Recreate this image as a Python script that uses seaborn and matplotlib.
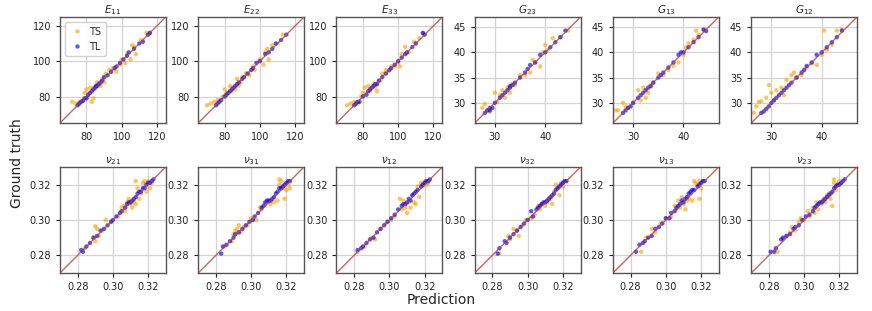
import pandas as pd
import matplotlib.pyplot as plt
import seaborn as sns

# (prediction, ground truth) pairs
e11_ts = [(72, 77), (74, 76), (76, 77), (78, 78), (79, 82), (80, 84), (81, 80), (82, 85), (83, 77), (84, 85),
          (86, 88), (88, 86), (89, 90), (90, 88), (91, 93), (93, 95), (95, 96), (97, 94), (99, 98), (100, 101),
          (102, 99), (103, 104), (105, 101), (106, 109), (107, 108), (108, 104), (111, 112), (114, 116), (116, 116), (84, 79)]
e11_tl = [(75, 75), (76, 76), (77, 77), (78, 77.5), (79, 79), (80, 79), (81, 81), (82, 82), (83, 83), (84, 84),
          (85, 85), (85.5, 86), (86, 86), (87, 87), (88, 88), (89, 89), (90, 91), (92, 92), (94, 94), (96, 96),
          (97, 97), (99, 99), (101, 101), (103, 103), (104, 105), (107, 107), (110, 110), (112, 111), (115, 115), (116, 116)]

e22_ts = [(70, 75), (72, 76), (74, 77), (76, 78), (79, 80), (80, 84), (81, 82), (83, 86), (84, 83), (86, 84),
          (87, 90), (88, 86), (89, 88), (90, 91), (92, 93), (94, 92), (96, 97), (97, 95), (100, 101), (102, 98),
          (103, 105), (104, 107), (105, 101), (107, 109), (110, 110), (113, 115)]
e22_tl = [(75, 75), (76, 76), (77, 77), (78, 78), (80, 80), (81, 81), (82, 82), (83, 83), (84, 84), (85, 85),
          (86, 86), (87, 87), (88, 88), (90, 90), (91, 91), (93, 93), (95, 95), (96, 96), (98, 99), (100, 100),
          (103, 104), (105, 105), (107, 107), (109, 110), (112, 112), (115, 115)]

e33_ts = [(71, 75), (73, 76), (75, 77), (77, 76), (79, 80), (80, 82), (81, 85), (83, 86), (84, 83), (86, 87),
          (87, 85), (88, 83), (90, 89), (91, 93), (93, 95), (94, 94), (96, 97), (98, 97), (100, 99), (101, 97),
          (102, 104), (104, 108), (106, 105), (109, 111), (112, 113), (114, 116)]
e33_tl = [(75, 75), (76, 76), (77, 77), (78, 77), (80, 80), (82, 81), (83, 83), (84, 84), (85, 85), (86, 86),
          (87, 87), (88, 87), (89, 89), (91, 91), (93, 93), (95, 95), (96, 96), (98, 98), (100, 100), (102, 102),
          (104, 104), (105, 105), (108, 108), (110, 110), (114, 116), (115, 115)]

g23_ts = [(27.5, 29), (28, 29.8), (28.5, 28.5), (29, 28.2), (30, 32), (30.5, 30.2), (31, 31.5), (31.5, 32.5),
          (32, 31), (32.5, 33), (33, 32), (33.5, 33.8), (34, 33.5), (35, 35.5), (36, 35.5), (37, 36), (38, 38),
          (39, 37.2), (39.5, 40), (40, 41.5), (40.5, 40.5), (41.5, 42.8), (43, 43), (44.5, 44.3), (37.5, 38.5)]
g23_tl = [(28, 28), (28.5, 28.5), (29, 29), (29, 28.5), (29.5, 29), (30, 30), (31, 31), (31.5, 31.5), (32, 32),
          (32.5, 32.5), (33, 33), (33, 33.3), (33.5, 33.5), (34, 34), (35, 35), (36, 36), (36.5, 36.7), (37, 37.5),
          (38, 38), (39, 39.5), (40, 40), (41, 41), (42, 42), (43, 43), (44, 44.3)]

g13_ts = [(26.5, 28.5), (27, 28.5), (28, 30), (28.5, 29.3), (29, 29), (30, 30), (31, 32.5), (31.5, 30.5),
          (32, 33), (32.5, 31), (33, 32), (33.5, 33.5), (34, 34), (35, 35.8), (36, 35.5), (37, 36.5), (38, 37.3),
          (39, 38), (40, 39.5), (40.5, 41), (41, 41.8), (42, 42.5), (42.5, 44.3), (43, 43.5), (44, 44.5)]
g13_tl = [(28, 28), (28.5, 28.5), (29, 29), (29.5, 29.3), (30, 30), (31, 31), (31.5, 31.5), (32, 32), (32.5, 32.5),
          (33, 33), (33.5, 33.3), (34, 34), (35, 35), (35.5, 35.5), (36, 36), (37, 37), (38, 38), (39, 39.5),
          (39.5, 40), (40, 40), (41, 41), (42, 42), (43, 43), (44, 44.5), (44.5, 44.2)]

g12_ts = [(26.5, 28), (27, 29.3), (27.5, 30.2), (28, 30.3), (29, 31), (29.5, 33.5), (30, 32), (30.5, 30.5),
          (31, 32.5), (32, 33), (32.5, 31.5), (33, 34.5), (34, 35.5), (34.5, 36), (35, 35), (36, 35.5), (37, 37),
          (38, 37.8), (39, 37.5), (40, 39.5), (40.5, 44.3), (41, 40.5), (42, 41.5), (43, 44.3), (44, 44.5)]
g12_tl = [(28, 28), (28.5, 28.3), (29, 28.8), (29.5, 29.3), (30, 30), (30.5, 30.5), (31, 31), (31.5, 31.5),
          (32, 32), (32.5, 32.5), (33, 33), (33.5, 33.5), (34, 34), (35, 35), (36, 36), (36.5, 36.5), (37, 37.3),
          (38, 38), (39, 39.5), (40, 40), (41, 41), (42, 42), (43, 43), (44, 44.3)]

nu21_ts = [(0.284, 0.284), (0.289, 0.290), (0.290, 0.2965), (0.290, 0.288), (0.291, 0.295), (0.292, 0.291),
           (0.294, 0.294), (0.296, 0.300), (0.299, 0.299), (0.303, 0.302), (0.305, 0.307), (0.306, 0.308),
           (0.307, 0.305), (0.308, 0.310), (0.309, 0.312), (0.310, 0.309), (0.311, 0.307), (0.312, 0.310),
           (0.313, 0.309), (0.313, 0.322), (0.314, 0.318), (0.315, 0.312), (0.316, 0.315), (0.317, 0.321),
           (0.318, 0.322), (0.319, 0.316), (0.320, 0.322), (0.321, 0.318), (0.322, 0.321)]
nu21_tl = [(0.282, 0.283), (0.283, 0.282), (0.285, 0.285), (0.287, 0.287), (0.289, 0.290), (0.291, 0.291),
           (0.293, 0.294), (0.295, 0.295), (0.297, 0.297), (0.299, 0.299), (0.300, 0.300), (0.302, 0.302),
           (0.304, 0.304), (0.305, 0.305), (0.307, 0.307), (0.308, 0.309), (0.309, 0.310), (0.310, 0.310),
           (0.311, 0.311), (0.312, 0.312), (0.313, 0.313), (0.314, 0.315), (0.315, 0.316), (0.316, 0.316),
           (0.317, 0.318), (0.318, 0.318), (0.319, 0.320), (0.320, 0.321), (0.321, 0.321), (0.322, 0.322), (0.323, 0.323)]

nu31_ts = [(0.285, 0.285), (0.289, 0.288), (0.290, 0.292), (0.291, 0.294), (0.292, 0.295), (0.293, 0.297),
           (0.294, 0.293), (0.296, 0.296), (0.298, 0.297), (0.300, 0.301), (0.303, 0.300), (0.305, 0.307),
           (0.306, 0.306), (0.308, 0.309), (0.310, 0.310), (0.311, 0.309), (0.313, 0.310), (0.315, 0.311),
           (0.316, 0.323), (0.316, 0.320), (0.317, 0.322), (0.318, 0.318), (0.319, 0.312), (0.320, 0.317),
           (0.321, 0.320), (0.322, 0.318)]
nu31_tl = [(0.283, 0.281), (0.284, 0.285), (0.286, 0.286), (0.288, 0.288), (0.290, 0.290), (0.291, 0.292),
           (0.293, 0.293), (0.295, 0.295), (0.297, 0.297), (0.299, 0.299), (0.301, 0.300), (0.302, 0.302),
           (0.304, 0.304), (0.306, 0.307), (0.307, 0.308), (0.308, 0.310), (0.309, 0.311), (0.310, 0.311),
           (0.311, 0.311), (0.312, 0.312), (0.313, 0.313), (0.314, 0.315), (0.315, 0.316), (0.316, 0.318),
           (0.317, 0.318), (0.318, 0.319), (0.319, 0.320), (0.320, 0.321), (0.321, 0.322), (0.322, 0.322)]

nu12_ts = [(0.282, 0.282), (0.286, 0.285), (0.290, 0.290), (0.292, 0.289), (0.295, 0.295), (0.298, 0.298),
           (0.301, 0.300), (0.303, 0.302), (0.306, 0.312), (0.307, 0.306), (0.308, 0.311), (0.309, 0.307),
           (0.310, 0.304), (0.311, 0.310), (0.312, 0.307), (0.313, 0.314), (0.314, 0.310), (0.315, 0.309),
           (0.316, 0.319), (0.317, 0.313), (0.318, 0.321), (0.319, 0.319), (0.320, 0.322), (0.321, 0.320),
           (0.322, 0.321)]
nu12_tl = [(0.282, 0.283), (0.284, 0.284), (0.285, 0.285), (0.287, 0.287), (0.289, 0.289), (0.291, 0.290),
           (0.293, 0.293), (0.295, 0.295), (0.297, 0.297), (0.299, 0.299), (0.301, 0.301), (0.303, 0.303),
           (0.305, 0.306), (0.307, 0.308), (0.308, 0.309), (0.309, 0.309), (0.310, 0.310), (0.311, 0.312),
           (0.312, 0.311), (0.313, 0.314), (0.314, 0.315), (0.315, 0.316), (0.316, 0.317), (0.318, 0.319),
           (0.319, 0.320), (0.320, 0.321), (0.321, 0.322), (0.322, 0.322), (0.323, 0.323)]

nu32_ts = [(0.284, 0.281), (0.289, 0.291), (0.290, 0.289), (0.292, 0.295), (0.294, 0.294), (0.295, 0.291),
           (0.297, 0.297), (0.299, 0.300), (0.302, 0.301), (0.304, 0.303), (0.306, 0.308), (0.307, 0.306),
           (0.308, 0.309), (0.310, 0.308), (0.311, 0.310), (0.312, 0.311), (0.313, 0.312), (0.314, 0.309),
           (0.315, 0.316), (0.316, 0.320), (0.317, 0.318), (0.318, 0.314), (0.319, 0.321), (0.320, 0.319),
           (0.322, 0.322)]
nu32_tl = [(0.283, 0.281), (0.284, 0.284), (0.287, 0.288), (0.288, 0.287), (0.290, 0.290), (0.292, 0.292),
           (0.294, 0.294), (0.296, 0.296), (0.298, 0.298), (0.300, 0.300), (0.302, 0.305), (0.303, 0.302),
           (0.305, 0.306), (0.306, 0.307), (0.307, 0.308), (0.308, 0.309), (0.309, 0.310), (0.310, 0.310),
           (0.311, 0.311), (0.312, 0.312), (0.313, 0.313), (0.314, 0.314), (0.315, 0.315), (0.316, 0.317),
           (0.317, 0.318), (0.318, 0.319), (0.319, 0.320), (0.320, 0.321), (0.321, 0.322), (0.322, 0.322)]

nu13_ts = [(0.286, 0.282), (0.289, 0.290), (0.292, 0.295), (0.294, 0.293), (0.297, 0.298), (0.300, 0.301),
           (0.303, 0.302), (0.305, 0.308), (0.306, 0.306), (0.307, 0.311), (0.308, 0.307), (0.309, 0.313),
           (0.310, 0.309), (0.311, 0.306), (0.312, 0.311), (0.313, 0.312), (0.314, 0.315), (0.315, 0.311),
           (0.316, 0.322), (0.317, 0.321), (0.318, 0.320), (0.319, 0.322), (0.319, 0.312), (0.320, 0.318),
           (0.321, 0.322)]
nu13_tl = [(0.283, 0.282), (0.285, 0.286), (0.287, 0.287), (0.288, 0.288), (0.290, 0.290), (0.292, 0.291),
           (0.294, 0.295), (0.296, 0.296), (0.298, 0.298), (0.300, 0.301), (0.302, 0.301), (0.303, 0.304),
           (0.305, 0.305), (0.306, 0.307), (0.307, 0.308), (0.308, 0.309), (0.309, 0.311), (0.310, 0.310),
           (0.311, 0.312), (0.312, 0.313), (0.313, 0.315), (0.314, 0.316), (0.315, 0.317), (0.316, 0.317),
           (0.318, 0.319), (0.319, 0.320), (0.320, 0.321), (0.321, 0.322), (0.322, 0.322)]

nu23_ts = [(0.285, 0.282), (0.288, 0.289), (0.290, 0.291), (0.292, 0.293), (0.293, 0.296), (0.295, 0.294),
           (0.297, 0.299), (0.298, 0.301), (0.300, 0.300), (0.302, 0.305), (0.303, 0.302), (0.305, 0.307),
           (0.306, 0.304), (0.307, 0.310), (0.308, 0.306), (0.310, 0.309), (0.311, 0.312), (0.312, 0.310),
           (0.313, 0.314), (0.314, 0.315), (0.315, 0.312), (0.316, 0.308), (0.317, 0.321), (0.317, 0.323),
           (0.318, 0.317), (0.319, 0.320), (0.320, 0.322), (0.321, 0.321)]
nu23_tl = [(0.281, 0.282), (0.283, 0.282), (0.284, 0.284), (0.287, 0.289), (0.288, 0.290), (0.290, 0.291),
           (0.292, 0.292), (0.294, 0.295), (0.295, 0.296), (0.297, 0.297), (0.299, 0.300), (0.301, 0.302),
           (0.303, 0.303), (0.305, 0.305), (0.306, 0.307), (0.307, 0.308), (0.308, 0.309), (0.309, 0.310),
           (0.310, 0.310), (0.311, 0.311), (0.312, 0.312), (0.313, 0.313), (0.314, 0.314), (0.315, 0.315),
           (0.316, 0.316), (0.317, 0.318), (0.318, 0.319), (0.319, 0.320), (0.320, 0.320), (0.321, 0.321),
           (0.322, 0.322), (0.323, 0.323)]

titles = [r"$E_{11}$", r"$E_{22}$", r"$E_{33}$", r"$G_{23}$", r"$G_{13}$", r"$G_{12}$",
          r"$\nu_{21}$", r"$\nu_{31}$", r"$\nu_{12}$", r"$\nu_{32}$", r"$\nu_{13}$", r"$\nu_{23}$"]
panels = [(e11_ts, e11_tl), (e22_ts, e22_tl), (e33_ts, e33_tl), (g23_ts, g23_tl), (g13_ts, g13_tl), (g12_ts, g12_tl),
          (nu21_ts, nu21_tl), (nu31_ts, nu31_tl), (nu12_ts, nu12_tl), (nu32_ts, nu32_tl), (nu13_ts, nu13_tl),
          (nu23_ts, nu23_tl)]

e_lim, e_ticks = (65, 125), [80, 100, 120]
g_lim, g_xticks, g_yticks = (26, 47), [30, 40], [30, 35, 40, 45]
nu_lim, nu_ticks = (0.27, 0.33), [0.28, 0.30, 0.32]

sns.set_style("ticks", {"axes.grid": True, "grid.color": "#d4d4d4", "grid.linestyle": "-"})
plt.rcParams["font.family"] = ["DejaVu Sans"]
plt.rcParams["grid.linewidth"] = 0.9

fig, axes = plt.subplots(2, 6, figsize=(8.72, 3.11), dpi=100)
fig.subplots_adjust(left=60 / 872, right=857 / 872, top=1 - 17 / 311, bottom=1 - 273 / 311,
                    wspace=0.307, hspace=0.415)

palette = {"TS": "orange", "TL": "blue"}

for i, ax in enumerate(axes.flat):
    ts, tl = panels[i]
    df = pd.DataFrame(
        [("TS", p, t) for p, t in ts] + [("TL", p, t) for p, t in tl],
        columns=["model", "pred", "truth"])

    if i < 3:
        lim, xt, yt = e_lim, e_ticks, e_ticks
    elif i < 6:
        lim, xt, yt = g_lim, g_xticks, g_yticks
    else:
        lim, xt, yt = nu_lim, nu_ticks, nu_ticks

    sns.scatterplot(data=df, x="pred", y="truth", hue="model", palette=palette,
                    s=10, alpha=0.65, linewidth=0, ax=ax, legend=(i == 0), zorder=2)
    ax.plot(lim, lim, color="#b5413d", lw=1, alpha=0.8, zorder=3)
    ax.set_xlim(lim)
    ax.set_ylim(lim)
    ax.set_xticks(xt)
    ax.set_yticks(yt)
    if i >= 6:
        ax.set_xticklabels([f"{v:.2f}" for v in xt])
        ax.set_yticklabels([f"{v:.2f}" for v in yt])
    ax.grid(True, color="#d4d4d4", linewidth=0.9)
    ax.set_axisbelow(True)
    ax.tick_params(labelsize=7, length=3, width=0.8, colors="#222222")
    for sp in ax.spines.values():
        sp.set_color("#555555")
        sp.set_linewidth(1)
    ax.set_xlabel("")
    ax.set_ylabel("")
    ax.set_title(titles[i], fontsize=7.5, pad=3)
    if i == 0:
        leg = ax.legend(loc="upper left", fontsize=7, handletextpad=0.5, handlelength=1.5,
                        borderpad=0.5, framealpha=0.9)
        leg.set_title(None)

fig.text(17 / 872, 148 / 311, "Ground truth", rotation=90, ha="center", va="center", fontsize=10)
fig.text(441 / 872, 1 - 304 / 311, "Prediction", ha="center", va="baseline", fontsize=10)

fig.savefig("out.png", dpi=100)
